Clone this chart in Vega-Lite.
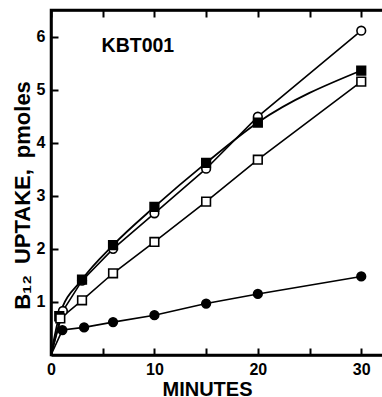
{
  "$schema": "https://vega.github.io/schema/vega-lite/v6.json",
  "autosize": "none",
  "padding": {"left": 51, "top": 10, "right": 0, "bottom": 42},
  "width": 333,
  "height": 345,
  "background": "white",
  "config": {
    "view": {"stroke": "black", "strokeWidth": 2.5},
    "font": "Liberation Sans",
    "axis": {"zindex": 1, "grid": false, "ticks": true, "domainColor": "black", "domainWidth": 2.5, "tickColor": "black", "tickOpacity": 1, "tickWidth": 2, "tickSize": -7, "labelFont": "Liberation Sans", "labelFontWeight": "bold", "labelFontSize": 16, "labelColor": "black", "titleFont": "Liberation Sans", "titleFontWeight": "bold", "titleFontSize": 20, "titleColor": "black"}
  },
  "data": {"values": [
    {"s": "oc", "t": 0, "v": 0}, {"s": "oc", "t": 1.15, "v": 0.83}, {"s": "oc", "t": 3, "v": 1.4}, {"s": "oc", "t": 6, "v": 2.0}, {"s": "oc", "t": 10, "v": 2.67}, {"s": "oc", "t": 15, "v": 3.51}, {"s": "oc", "t": 20, "v": 4.49}, {"s": "oc", "t": 30, "v": 6.11},
    {"s": "fs", "t": 0, "v": 0}, {"s": "fs", "t": 0.8, "v": 0.73}, {"s": "fs", "t": 3, "v": 1.42}, {"s": "fs", "t": 6, "v": 2.07}, {"s": "fs", "t": 10, "v": 2.79}, {"s": "fs", "t": 15, "v": 3.62}, {"s": "fs", "t": 20, "v": 4.38}, {"s": "fs", "t": 30, "v": 5.36},
    {"s": "os", "t": 0, "v": 0}, {"s": "os", "t": 0.9, "v": 0.69}, {"s": "os", "t": 3, "v": 1.03}, {"s": "os", "t": 6, "v": 1.54}, {"s": "os", "t": 10, "v": 2.13}, {"s": "os", "t": 15, "v": 2.89}, {"s": "os", "t": 20, "v": 3.68}, {"s": "os", "t": 30, "v": 5.15},
    {"s": "fc", "t": 0, "v": 0}, {"s": "fc", "t": 1.1, "v": 0.47}, {"s": "fc", "t": 3.2, "v": 0.52}, {"s": "fc", "t": 6, "v": 0.62}, {"s": "fc", "t": 10, "v": 0.75}, {"s": "fc", "t": 15, "v": 0.97}, {"s": "fc", "t": 20, "v": 1.15}, {"s": "fc", "t": 30, "v": 1.48}
  ]},
  "resolve": {"axis": {"x": "independent"}},
  "layer": [
    {"transform": [{"filter": "datum.s != 'fs'"}], "mark": {"type": "line", "color": "black", "strokeWidth": 1.6},
      "encoding": {
        "x": {"field": "t", "type": "quantitative", "scale": {"domain": [0, 32.2], "nice": false, "zero": false},
          "axis": {"orient": "bottom", "values": [0, 5, 10, 15, 20, 25, 30], "labelExpr": "datum.value % 10 == 0 ? datum.label : ''", "title": "MINUTES", "labelPadding": 13, "titlePadding": 2, "labelFlush": false, "titleX": 156, "titleFontSize": 20, "ticks": true}},
        "y": {"field": "v", "type": "quantitative", "scale": {"domain": [0, 6.5], "nice": false},
          "axis": {"values": [1, 2, 3, 4, 5, 6], "title": "B₁₂\u2002UPTAKE,\u2002pmoles", "labelPadding": 13, "titleFontSize": 22, "titleY": 185, "titleX": -22, "titleBaseline": "alphabetic", "titleAngle": -90, "titleAlign": "center", "ticks": true}},
        "detail": {"field": "s"}}},
    {"transform": [{"filter": "datum.s == 'fs'"}], "mark": {"type": "line", "color": "black", "strokeWidth": 1.8, "interpolate": "monotone"},
      "encoding": {
        "x": {"field": "t", "type": "quantitative", "axis": {"orient": "top", "values": [0, 5, 10, 15, 20, 25, 30], "labels": false, "title": null, "ticks": true, "domain": true}},
        "y": {"field": "v", "type": "quantitative"}}},
    {"transform": [{"filter": "datum.t > 0"}], "mark": {"type": "point", "stroke": "black", "strokeWidth": 1.6, "opacity": 1, "filled": false},
      "encoding": {
        "x": {"field": "t", "type": "quantitative", "axis": null},
        "y": {"field": "v", "type": "quantitative"},
        "shape": {"field": "s", "type": "nominal", "scale": {"domain": ["oc", "fs", "os", "fc"], "range": ["circle", "square", "square", "circle"]}, "legend": null},
        "fill": {"field": "s", "type": "nominal", "scale": {"domain": ["oc", "fs", "os", "fc"], "range": ["white", "black", "white", "black"]}, "legend": null},
        "size": {"value": 75}
      }},
    {"data": {"values": [{"t": 8.4, "v": 5.83, "label": "KBT001"}]}, "mark": {"type": "text", "fontSize": 19.5, "fontWeight": "bold", "font": "Liberation Sans", "color": "black", "baseline": "middle", "align": "center"},
      "encoding": {
        "x": {"field": "t", "type": "quantitative", "axis": null},
        "y": {"field": "v", "type": "quantitative"},
        "text": {"field": "label"}}}
  ]
}
